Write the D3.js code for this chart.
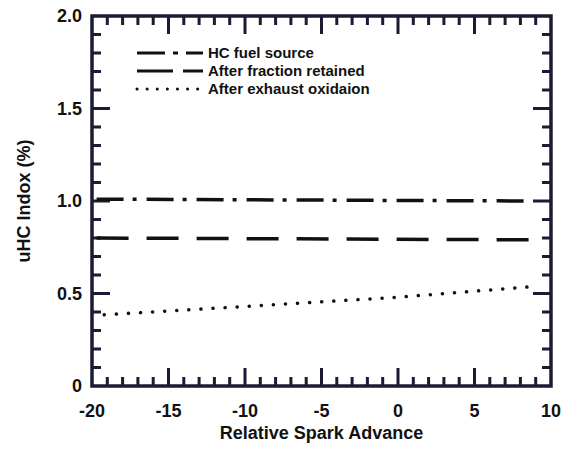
<!DOCTYPE html>
<html>
<head>
<meta charset="utf-8">
<script src="https://cdn.jsdelivr.net/npm/d3@7"></script>
<style>
  body { margin: 0; background: #fff; }
  text { font-family: "Liberation Sans", Arial, sans-serif; fill: #111; }
</style>
</head>
<body>
<div id="chart"></div>
<script>
// series
var hcFuel = [{x: -19.7, y: 1.01}, {x: 8.5, y: 1.0}];
var fractionRetained = [{x: -19.7, y: 0.80}, {x: 9.3, y: 0.79}];
var exhaustOxidation = [{x: -19.2, y: 0.385}, {x: -10, y: 0.43}, {x: 0, y: 0.48}, {x: 9.2, y: 0.54}];

var xTicks = [-20, -15, -10, -5, 0, 5, 10];
var yTicks = [0, 0.5, 1.0, 1.5, 2.0];
var yTickLabels = ["0", "0.5", "1.0", "1.5", "2.0"];
var legendLabels = ["HC fuel source", "After fraction retained", "After exhaust oxidaion"];

var margin = {top: 16, right: 19, bottom: 65, left: 92},
    width = 570 - margin.left - margin.right,
    height = 451 - margin.top - margin.bottom;

var frameColor = "#1b1b33";

var svg = d3.select("#chart")
  .append("svg")
    .attr("width", 570)
    .attr("height", 451)
  .append("g")
    .attr("transform", "translate(" + margin.left + "," + margin.top + ")");

var x = d3.scaleLinear().domain([-20, 10]).range([0, width]);
var y = d3.scaleLinear().domain([0, 2]).range([height, 0]);

var line = d3.line()
  .x(function(d) { return x(d.x); })
  .y(function(d) { return y(d.y); });

var minorX = d3.range(-19, 10);
var minorY = d3.range(1, 20).map(function(d) { return d / 10; });

// inward ticks, one path per side: major 18px, minor 9px
function xTickPath(y0, dir) {
  return minorX.map(function(d) {
    var len = d % 5 == 0 ? 18 : 9;
    return "M" + x(d) + "," + y0 + "v" + (dir * len);
  }).join("");
}
function yTickPath(x0, dir) {
  return minorY.map(function(d) {
    var len = Math.round(d * 10) % 5 == 0 ? 18 : 9;
    return "M" + x0 + "," + y(d) + "h" + (dir * len);
  }).join("");
}
[xTickPath(height, -1), xTickPath(0, 1), yTickPath(0, 1), yTickPath(width, -1)].forEach(function(p) {
  svg.append("path")
    .attr("d", p)
    .attr("fill", "none")
    .attr("stroke", frameColor)
    .attr("stroke-width", 3);
});

// frame
svg.append("path")
  .datum([{x: -20, y: 0}, {x: 10, y: 0}, {x: 10, y: 2}, {x: -20, y: 2}, {x: -20, y: 0}])
  .attr("d", line)
  .attr("fill", "none").attr("stroke", frameColor).attr("stroke-width", 3.5)
  .attr("stroke-linejoin", "miter").attr("stroke-linecap", "square");

// tick labels
svg.append("g").selectAll("text").data(xTicks).enter().append("text")
  .attr("x", function(d) { return x(d); })
  .attr("y", height + 31)
  .attr("text-anchor", "middle")
  .style("font-size", "18px").style("font-weight", "bold")
  .text(function(d) { return d; });

svg.append("g").selectAll("text").data(yTicks).enter().append("text")
  .attr("x", -10)
  .attr("y", function(d) { return y(d) + 6; })
  .attr("text-anchor", "end")
  .style("font-size", "18px").style("font-weight", "bold")
  .text(function(d, i) { return yTickLabels[i]; });

// axis titles
svg.append("text")
  .attr("x", width / 2)
  .attr("y", height + 53)
  .attr("text-anchor", "middle")
  .style("font-size", "18px").style("font-weight", "bold")
  .text("Relative Spark Advance");

svg.append("text")
  .attr("transform", "rotate(-90)")
  .attr("x", -height / 2)
  .attr("y", -62)
  .attr("text-anchor", "middle")
  .style("font-size", "18px").style("font-weight", "bold")
  .text("uHC Indox (%)");

var styles = [
  {data: hcFuel, dash: "27,9,4,10", cap: "butt"},
  {data: fractionRetained, dash: "32,18", cap: "butt"},
  {data: exhaustOxidation, dash: "0.1,12", cap: "round"}
];

styles.forEach(function(s) {
  svg.append("path")
    .datum(s.data)
    .attr("fill", "none")
    .attr("stroke", "#111")
    .attr("stroke-width", 3.5)
    .attr("stroke-linecap", s.cap)
    .attr("stroke-dasharray", s.dash)
    .attr("d", line);
});

// legend
var legend = svg.append("g").attr("transform", "translate(45,37)");
legendLabels.forEach(function(label, i) {
  var s = styles[i];
  legend.append("line")
    .attr("x1", 0).attr("x2", 66)
    .attr("y1", i * 18).attr("y2", i * 18)
    .attr("stroke", "#111").attr("stroke-width", 3)
    .attr("stroke-linecap", s.cap)
    .attr("stroke-dasharray", i == 2 ? "0.1,10" : (i == 0 ? "28,8,5,8" : "36,10"));
  legend.append("text")
    .attr("x", 71)
    .attr("y", i * 18 + 5)
    .style("font-size", "15px").style("font-weight", "bold")
    .text(label);
});
</script>
</body>
</html>
